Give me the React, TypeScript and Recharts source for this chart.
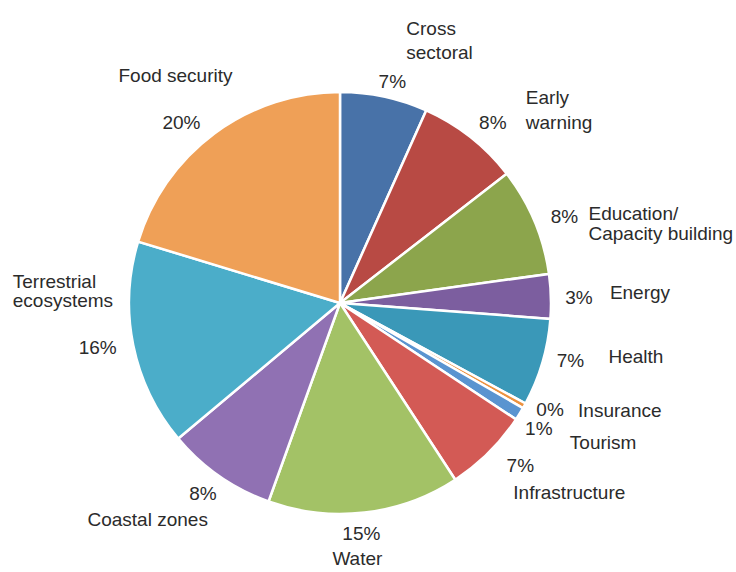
import { PieChart, Pie, Cell } from 'recharts'

const SECTORS = [
  'Cross sectoral',
  'Early warning',
  'Education/Capacity building',
  'Energy',
  'Health',
  'Insurance',
  'Tourism',
  'Infrastructure',
  'Water',
  'Coastal zones',
  'Terrestrial ecosystems',
  'Food security',
]

// how each sector name is broken over lines in the label
const NAME_LINES = [
  ['Cross', 'sectoral'],
  ['Early', 'warning'],
  ['Education/', 'Capacity building'],
  ['Energy'],
  ['Health'],
  ['Insurance'],
  ['Tourism'],
  ['Infrastructure'],
  ['Water'],
  ['Coastal zones'],
  ['Terrestrial', 'ecosystems'],
  ['Food security'],
]

// share of total (%)
const SHARES = [6.7, 7.8, 8.3, 3.4, 6.7, 0.4, 1.0, 6.5, 14.7, 8.4, 15.8, 20.3]

// rounded labels as printed on the chart
const PCT_LABELS = ['7%', '8%', '8%', '3%', '7%', '0%', '1%', '7%', '15%', '8%', '16%', '20%']

const COLORS = [
  '#4872a8',
  '#b84a44',
  '#8ca54c',
  '#7c5e9f',
  '#3a98b8',
  '#ec9240',
  '#5a94d0',
  '#d35a55',
  '#a3c266',
  '#9071b3',
  '#4badc9',
  '#efa057',
]

// label nudges: pct offset from the radial anchor, name offset from the pct
const LABEL_LAYOUT = [
  { pct: [3, 9], anchor: 'start', dx: 14, dy: [-53, -29] },
  { pct: [7, 5], anchor: 'start', dx: 33, dy: [-25, 0] },
  { pct: [7, 5], anchor: 'start', dx: 24, dy: [-3, 17] },
  { pct: [3, 2], anchor: 'start', dx: 31, dy: [-5] },
  { pct: [4, -9], anchor: 'start', dx: 38, dy: [-4] },
  { pct: [4, -8], anchor: 'start', dx: 28, dy: [1] },
  { pct: [-2, 2], anchor: 'start', dx: 31, dy: [14] },
  { pct: [14, -5], anchor: 'start', dx: -7, dy: [27] },
  { pct: [-6, -4], anchor: 'middle', dx: -4, dy: [25] },
  { pct: [-2, -3], anchor: 'end', dx: 5, dy: [26] },
  { pct: [-11, -3], anchor: 'start', dx: -85, dy: [-66, -47] },
  { pct: [-18, 9], anchor: 'middle', dx: -6, dy: [-47] },
]

const RADIAN = Math.PI / 180
const TEXT_COLOR = '#2b2b2b'

const renderLabel = (props: any) => {
  const { cx, cy, midAngle, outerRadius, index } = props
  const layout = LABEL_LAYOUT[index]
  const r = outerRadius + 25
  const x = cx + r * Math.cos(-midAngle * RADIAN) + layout.pct[0]
  const y = cy + r * Math.sin(-midAngle * RADIAN) + layout.pct[1]

  return (
    <g key={`label-${index}`}>
      <text
        x={x}
        y={y}
        textAnchor="middle"
        dominantBaseline="central"
        fill={TEXT_COLOR}
        fontSize={19}
        fontFamily="'Liberation Sans', Arial, sans-serif"
      >
        {PCT_LABELS[index]}
      </text>
      {NAME_LINES[index].map((line, i) => (
        <text
          key={line}
          x={x + layout.dx}
          y={y + layout.dy[i]}
          textAnchor={layout.anchor as any}
          dominantBaseline="central"
          fill={TEXT_COLOR}
          fontSize={19}
          fontFamily="'Liberation Sans', Arial, sans-serif"
        >
          {line}
        </text>
      ))}
    </g>
  )
}

export default function App() {
  const data = SECTORS.map((name, i) => ({ name, value: SHARES[i] }))

  return (
    <div style={{ position: 'absolute', left: 0, top: 0, width: 736, height: 572, background: '#fff' }}>
      <PieChart width={736} height={572} margin={{ top: 0, right: 0, bottom: 0, left: 0 }}>
        <Pie
          data={data}
          dataKey="value"
          nameKey="name"
          cx={340}
          cy={303}
          outerRadius={211}
          startAngle={90}
          endAngle={-270}
          stroke="#ffffff"
          strokeWidth={2.5}
          label={renderLabel}
          labelLine={false}
          isAnimationActive={false}
        >
          {data.map((entry, index) => (
            <Cell key={`cell-${index}`} fill={COLORS[index]} />
          ))}
        </Pie>
      </PieChart>
    </div>
  )
}
